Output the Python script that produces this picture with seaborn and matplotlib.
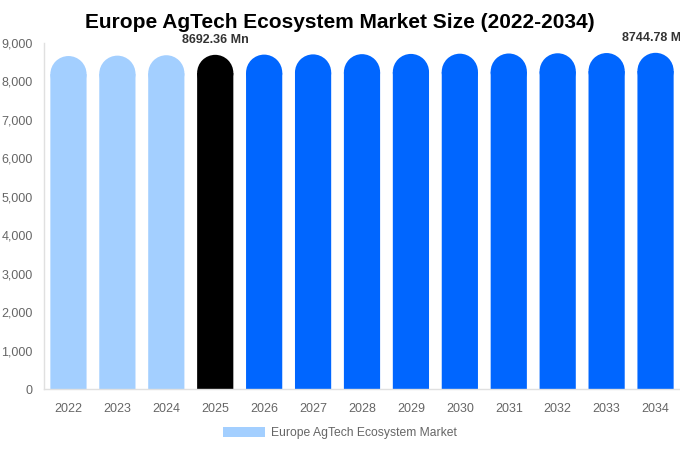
import pandas as pd
import matplotlib
matplotlib.use("Agg")
import matplotlib.pyplot as plt
from matplotlib.patches import Ellipse, Patch
import seaborn as sns

years = ["2022", "2023", "2024", "2025", "2026", "2027", "2028",
         "2029", "2030", "2031", "2032", "2033", "2034"]
values = [8661, 8671, 8682, 8692.36, 8698, 8704, 8710,
          8716, 8722, 8727, 8733, 8739, 8744.78]
bar_colors = ["#a3cfff"] * 3 + ["#000000"] + ["#0066ff"] * 9
labelled = {"2025": "8692.36 Mn", "2034": "8744.78 Mn"}

sns.set_theme(style="white")
plt.rcParams["font.family"] = ["Liberation Sans", "DejaVu Sans"]

df = pd.DataFrame({"year": years, "value": values})

fig = plt.figure(figsize=(6.8, 4.5), dpi=100)
ax = fig.add_axes([44 / 680, 61 / 450, 636 / 680, 346 / 450])
sns.barplot(data=df, x="year", y="value", hue="year", palette=bar_colors,
            legend=False, width=0.74, saturation=1, linewidth=0, ax=ax)

ax.set_xlim(-0.5, 12.5)
ax.set_ylim(0, 9000)
ax.set_yticks(range(0, 9001, 1000))
ax.set_yticklabels([f"{v:,}" for v in range(0, 9001, 1000)])
ax.set_xlabel("")
ax.set_ylabel("")
ax.tick_params(axis="both", colors="#666666", labelsize=9, length=0)
ax.tick_params(axis="x", pad=10)
ax.tick_params(axis="y", pad=8)
for side in ["top", "right"]:
    ax.spines[side].set_visible(False)
for side in ["left", "bottom"]:
    ax.spines[side].set_color("#e0e0e0")
    ax.spines[side].set_linewidth(1)

# rounded tops: convert half bar width (pixels) to data units on y
fig.canvas.draw()
px_x = ax.transData.transform((1, 0))[0] - ax.transData.transform((0, 0))[0]
px_y = ax.transData.transform((0, 1000))[1] - ax.transData.transform((0, 0))[1]
for patch, col in zip(ax.patches, bar_colors):
    patch.set_linewidth(0)
    patch.set_snap(False)
    w = patch.get_width()
    h = patch.get_height()
    ry = (w * px_x / 2) / px_y * 1000
    cx = patch.get_x() + w / 2
    patch.set_height(h - ry)
    ax.add_patch(Ellipse((cx, h - ry), w, 2 * ry, facecolor=col,
                         edgecolor="none", linewidth=0, clip_on=False))

for i, (yr, v) in enumerate(zip(years, values)):
    if yr in labelled:
        ax.annotate(labelled[yr], (i, v), xytext=(0, 6), textcoords="offset points",
                    ha="center", va="bottom", fontsize=9, fontweight="bold",
                    color="#333333", annotation_clip=False)

fig.suptitle("Europe AgTech Ecosystem Market Size (2022-2034)", x=0.5, y=0.972,
             fontsize=15, fontweight="bold", color="#000000")

handle = Patch(facecolor="#a3cfff", edgecolor="none", linewidth=0)
fig.legend([handle], ["Europe AgTech Ecosystem Market"], loc="lower center",
           bbox_to_anchor=(0.5, 0.0), frameon=False, fontsize=8.7,
           labelcolor="#666666", handlelength=3.4, handleheight=1.0,
           handletextpad=0.5)

fig.savefig("out.png", dpi=100)
